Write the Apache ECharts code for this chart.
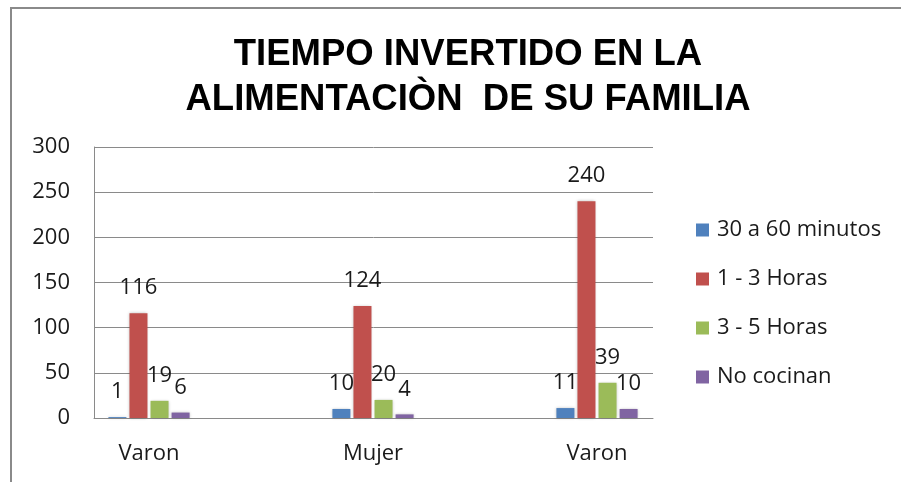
<!DOCTYPE html>
<html>
<head>
<meta charset="utf-8">
<script src="https://cdn.jsdelivr.net/npm/echarts@6/dist/echarts.min.js"></script>
<style>html,body{margin:0;padding:0;background:#fff}#c{width:901px;height:482px}</style>
</head>
<body>
<div id="c"></div>
<script>
const titleLines = ['TIEMPO INVERTIDO EN LA', 'ALIMENTACIÒN  DE SU FAMILIA'];
const categories = ['Varon', 'Mujer', 'Varon'];
const seriesNames = ['30 a 60 minutos', '1 - 3 Horas', '3 - 5 Horas', 'No cocinan'];
const s30a60 = [1, 10, 11];
const s1a3 = [116, 124, 240];
const s3a5 = [19, 20, 39];
const sNoCocinan = [6, 4, 10];
const yTicks = [0, 50, 100, 150, 200, 250, 300];
const colors = ['#4F81BD', '#C0504D', '#9BBB59', '#8064A2'];

const FONT = 'Open Sans';
const FS = 22;
const chart = echarts.init(document.getElementById('c'));
const seriesData = [s30a60, s1a3, s3a5, sNoCocinan];

chart.setOption({
  animation: false,
  backgroundColor: '#fff',
  title: {
    text: titleLines.join('\n'),
    left: 463, top: 27, textAlign: 'center',
    textStyle: { fontFamily: 'Liberation Sans', fontWeight: 'bold', fontSize: 36.5, lineHeight: 45, color: '#000' }
  },
  graphic: [{
    type: 'rect', shape: { x: 11, y: 8, width: 1000, height: 1000 },
    style: { fill: 'none', stroke: '#8a8a8a', lineWidth: 2 }, silent: true, z: -1
  }],
  legend: {
    orient: 'vertical', left: 696, top: 219, padding: 0,
    itemWidth: 13, itemHeight: 13, itemGap: 27,
    icon: 'rect',
    data: seriesNames,
    textStyle: { fontFamily: FONT, fontSize: FS, color: '#1a1a1a', padding: [0, 0, 0, 3] }
  },
  grid: [
    { left: 37, right: 192, top: 147, bottom: 64 },
    { left: 94, right: 248, top: 147, bottom: 64 }
  ],
  xAxis: [
    { type: 'category', gridIndex: 0, data: categories,
      axisLine: { show: false }, axisTick: { show: false },
      axisLabel: { fontFamily: FONT, fontSize: FS, color: '#1a1a1a', margin: 25 } },
    { type: 'category', gridIndex: 1, data: [''],
      axisLine: { show: true, lineStyle: { color: '#8a8a8a', width: 1 } },
      axisTick: { show: false }, axisLabel: { show: false } }
  ],
  yAxis: [
    { type: 'value', gridIndex: 0, min: 0, max: 300, interval: 50, show: false, splitLine: { show: false } },
    { type: 'value', gridIndex: 1, min: 0, max: 300, interval: 50,
      axisLine: { show: true, lineStyle: { color: '#8a8a8a', width: 1 } },
      axisTick: { show: false },
      splitLine: { show: true, lineStyle: { color: '#8a8a8a', width: 1 } },
      axisLabel: { fontFamily: FONT, fontSize: FS, color: '#1a1a1a', margin: 24,
        formatter: v => yTicks.includes(v) ? String(v) : '' } }
  ],
  series: seriesNames.map((n, i) => ({
    name: n, type: 'bar', xAxisIndex: 0, yAxisIndex: 0,
    data: seriesData[i], barWidth: 18, barGap: '17%',
    itemStyle: { color: colors[i], shadowColor: 'rgba(0,0,0,0.25)', shadowBlur: 3 },
    label: { show: true, position: 'top', distance: 14, fontFamily: FONT, fontSize: FS, color: '#1a1a1a' },
    z: 3
  }))
});
</script>
</body>
</html>
